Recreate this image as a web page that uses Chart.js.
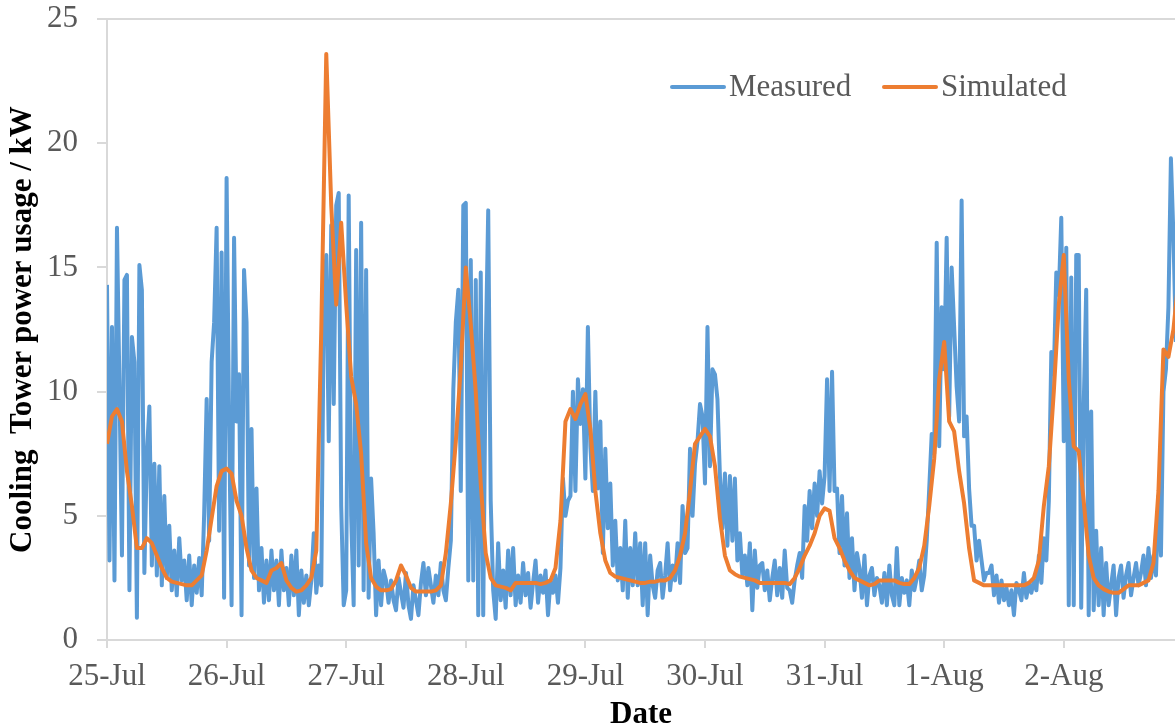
<!DOCTYPE html>
<html>
<head>
<meta charset="utf-8">
<title>Cooling Tower power usage</title>
<script src="https://cdn.jsdelivr.net/npm/chart.js@4.4.0/dist/chart.umd.min.js"></script>
<style>
    html, body { margin: 0; padding: 0; background: #ffffff; }
    #chart { display: block; }
</style>
</head>
<body>
<canvas id="chart" width="1175" height="727"></canvas>
<script>
// ----- DATA -----

// Day labels on the x axis (one tick per day, starting at 25-Jul)
const dayLabels = ['25-Jul', '26-Jul', '27-Jul', '28-Jul', '29-Jul', '30-Jul', '31-Jul', '1-Aug', '2-Aug'];

// Sampling step of each series, in days
const measuredStep = 1 / 48;   // half-hourly readings
const simulatedStep = 1 / 24;  // hourly model output

// Measured power (kW), one row per day
const measured = [
    14.3, 3.2, 12.6, 2.4, 16.6, 10.2, 3.4, 14.5, 14.7, 2.0, 12.2, 11.2, 0.9, 15.1, 14.1, 2.7, 7.5, 9.4, 3.0, 7.1, 2.6, 7.0, 2.2, 5.8,
    2.5, 4.6, 2.0, 3.6, 1.8, 4.1, 2.4, 3.2, 1.6, 3.4, 1.4, 3.0, 1.9, 3.3, 1.8, 5.1, 9.7, 4.0, 11.2, 12.8, 16.6, 4.4, 15.6, 1.7,
    18.6, 8.8, 1.4, 16.2, 8.8, 10.7, 1.0, 14.9, 12.8, 3.0, 8.5, 2.5, 6.1, 2.0, 3.7, 1.5, 3.2, 1.6, 3.6, 2.0, 3.2, 1.4, 3.6, 2.0,
    2.9, 1.4, 3.4, 1.8, 3.6, 1.0, 2.8, 1.5, 2.6, 1.4, 2.4, 4.3, 1.9, 3.0, 2.2, 13.3, 15.5, 8.0, 16.7, 9.5, 17.5, 18.0, 5.4, 1.4,
    2.0, 17.9, 5.0, 1.4, 15.7, 3.0, 16.8, 2.0, 14.9, 1.7, 6.5, 4.3, 1.0, 3.2, 1.4, 2.8, 2.4, 1.5, 2.4, 1.6, 1.2, 2.5, 1.9, 1.3,
    2.7, 1.4, 0.85, 2.2, 1.6, 1.0, 2.3, 3.1, 1.8, 2.9, 2.2, 1.5, 2.6, 1.8, 3.1, 2.0, 1.6, 2.9, 4.0, 10.1, 12.8, 14.1, 6.0, 17.5,
    17.6, 2.4, 15.3, 2.4, 14.5, 1.0, 14.8, 1.0, 11.6, 17.3, 5.6, 2.0, 0.85, 3.9, 1.6, 2.8, 1.3, 3.6, 1.8, 3.7, 1.4, 2.6, 1.5, 3.1,
    1.8, 2.7, 1.3, 2.3, 3.2, 1.5, 2.6, 1.9, 2.8, 1.0, 2.4, 1.9, 2.6, 1.5, 2.9, 6.5, 5.0, 5.6, 5.8, 10.0, 6.0, 10.5, 8.7, 10.1,
    6.5, 12.6, 7.8, 6.0, 10.0, 6.1, 8.8, 3.5, 7.7, 4.5, 6.3, 3.0, 4.8, 2.4, 3.7, 2.0, 4.8, 1.7, 3.7, 2.2, 4.3, 2.2, 3.9, 1.4,
    3.9, 1.0, 3.4, 2.2, 1.7, 2.8, 3.1, 1.7, 2.6, 3.9, 2.0, 3.0, 2.4, 3.9, 2.3, 5.4, 3.5, 3.7, 7.7, 5.0, 7.1, 8.0, 9.5, 9.0,
    6.3, 12.6, 7.0, 10.9, 10.7, 9.7, 6.6, 4.5, 6.7, 3.8, 6.6, 4.0, 6.5, 3.2, 4.3, 2.6, 3.4, 2.2, 3.9, 1.2, 3.6, 2.1, 3.0, 3.1,
    2.0, 2.8, 1.6, 2.5, 3.2, 1.8, 2.9, 1.7, 3.6, 2.1, 2.0, 1.5, 2.4, 3.0, 3.5, 2.5, 5.4, 4.0, 6.0, 4.5, 6.3, 5.0, 6.8, 5.5,
    6.6, 10.5, 6.0, 10.8, 6.0, 6.1, 3.5, 5.8, 3.0, 5.1, 2.5, 4.1, 2.0, 3.5, 2.9, 1.7, 3.4, 1.4, 2.6, 2.9, 1.8, 2.5, 2.2, 1.5,
    2.7, 1.4, 3.0, 1.8, 1.4, 3.7, 1.4, 2.5, 1.9, 2.4, 1.4, 2.8, 2.0, 2.5, 3.2, 2.0, 2.6, 4.0, 6.1, 8.3, 7.5, 16.0, 7.8, 13.4,
    10.9, 16.2, 9.0, 15.0, 12.6, 10.2, 8.8, 17.7, 8.2, 9.0, 6.1, 4.6, 4.6, 3.2, 4.0, 3.2, 2.4, 2.7, 2.7, 3.0, 1.8, 2.6, 1.5, 2.4,
    1.6, 2.1, 1.4, 2.0, 1.0, 2.3, 2.0, 1.6, 2.7, 1.7, 2.3, 1.9, 2.4, 2.0, 3.4, 2.3, 4.1, 3.2, 5.6, 11.6, 10.7, 14.8, 13.9, 17.0,
    8.0, 15.8, 1.4, 14.6, 1.4, 15.5, 15.5, 1.3, 9.4, 14.1, 1.0, 9.2, 1.2, 4.4, 1.4, 3.7, 1.0, 3.1, 1.4, 2.2, 3.0, 1.0, 2.5, 3.0,
    1.7, 2.6, 3.1, 1.8, 2.5, 3.1, 2.2, 2.7, 3.4, 2.2, 3.7, 2.5, 3.4, 2.6, 5.8, 3.4, 10.0, 10.9, 13.4, 19.4, 16.3, 12.0
];

// Simulated power (kW), one row per day
const simulated = [
    7.9, 9.0, 9.3, 8.8, 6.8, 5.4, 3.7, 3.7, 4.1, 3.9, 3.4, 2.9, 2.5, 2.35, 2.3, 2.25, 2.2, 2.2, 2.4, 2.6, 3.6, 4.9, 6.2, 6.8,
    6.9, 6.7, 5.6, 5.0, 3.7, 2.8, 2.5, 2.4, 2.3, 2.8, 2.9, 3.1, 2.4, 2.1, 1.95, 2.0, 2.2, 2.5, 3.6, 12.5, 23.6, 17.5, 13.5, 16.8,
    13.5, 10.6, 9.5, 7.5, 3.9, 2.5, 2.15, 2.0, 2.0, 2.05, 2.4, 3.0, 2.6, 2.1, 1.95, 1.95, 1.95, 1.95, 2.0, 2.2, 3.5, 5.5, 8.0, 11.0,
    15.0, 12.7, 10.0, 6.3, 3.5, 2.5, 2.2, 2.15, 2.1, 2.0, 2.3, 2.3, 2.3, 2.3, 2.3, 2.25, 2.3, 2.4, 2.9, 4.8, 8.8, 9.3, 8.9, 9.5,
    9.9, 8.5, 6.0, 4.3, 3.2, 2.7, 2.55, 2.5, 2.45, 2.4, 2.35, 2.3, 2.3, 2.35, 2.35, 2.4, 2.4, 2.5, 2.8, 3.4, 4.3, 6.0, 7.9, 8.2,
    8.5, 8.2, 7.0, 4.9, 3.4, 2.8, 2.65, 2.55, 2.5, 2.45, 2.4, 2.3, 2.3, 2.3, 2.3, 2.3, 2.3, 2.25, 2.5, 2.9, 3.4, 3.8, 4.3, 5.0,
    5.3, 5.2, 4.1, 3.7, 3.2, 2.8, 2.5, 2.4, 2.3, 2.2, 2.25, 2.4, 2.4, 2.4, 2.4, 2.3, 2.25, 2.25, 2.5, 2.9, 3.8, 5.4, 7.3, 10.5,
    12.0, 8.8, 8.4, 6.8, 5.5, 3.7, 2.4, 2.3, 2.2, 2.2, 2.2, 2.2, 2.2, 2.2, 2.2, 2.2, 2.2, 2.3, 2.5, 3.2, 5.4, 7.0, 10.0, 13.5,
    15.5, 10.5, 7.8, 7.6, 5.6, 3.4, 2.5, 2.2, 2.05, 1.95, 1.9, 1.9, 2.05, 2.2, 2.2, 2.2, 2.3, 2.4, 3.1, 6.0, 11.7, 11.4, 12.5, 14.5
];

// ----- CONFIGURACIÓN -----

const textColor = '#595959';
const lineGray = '#d9d9d9';
const serif = '"Liberation Serif", "Times New Roman", serif';

Chart.defaults.font.family = serif;
Chart.defaults.color = textColor;

// Turn a series into {x, y} points, x in days from 25-Jul
function toPoints(values, step) {
    return values.map((v, i) => ({ x: i * step, y: v }));
}

// Legend drawn inside the plot, top right, like the original figure
const innerLegend = {
    id: 'innerLegend',
    afterDatasetsDraw(chart) {
        const ctx = chart.ctx;
        const slots = [672, 884];
        const y = 87;
        ctx.save();
        ctx.font = '31px ' + serif;
        ctx.textBaseline = 'middle';
        ctx.textAlign = 'left';
        chart.data.datasets.forEach((ds, i) => {
            const x = slots[i];
            ctx.strokeStyle = ds.borderColor;
            ctx.lineWidth = 4;
            ctx.lineCap = 'round';
            ctx.beginPath();
            ctx.moveTo(x, y);
            ctx.lineTo(x + 52, y);
            ctx.stroke();
            ctx.fillStyle = textColor;
            ctx.fillText(ds.label, x + 57, y + 1);
        });
        ctx.restore();
    }
};

new Chart(document.getElementById('chart'), {
    type: 'line',
    data: {
        datasets: [
            {
                label: 'Measured',
                data: toPoints(measured, measuredStep),
                borderColor: '#5b9bd5',
                borderWidth: 4,
                borderJoinStyle: 'round',
                pointRadius: 0,
                tension: 0,
                order: 1
            },
            {
                label: 'Simulated',
                data: toPoints(simulated, simulatedStep),
                borderColor: '#ed7d31',
                borderWidth: 4,
                borderJoinStyle: 'round',
                pointRadius: 0,
                tension: 0,
                order: 0
            }
        ]
    },
    options: {
        responsive: false,
        animation: false,
        devicePixelRatio: 1,
        layout: { padding: 0 },
        plugins: {
            legend: { display: false },
            tooltip: { enabled: false }
        },
        scales: {
            x: {
                type: 'linear',
                min: 0,
                max: 8.93,
                afterFit: s => { s.height = 87; },
                afterBuildTicks: s => { s.ticks = s.ticks.filter(t => Number.isInteger(t.value)); },
                ticks: {
                    stepSize: 1,
                    padding: 10,
                    maxRotation: 0,
                    autoSkip: false,
                    font: { size: 31 },
                    color: textColor,
                    callback: v => dayLabels[v] || ''
                },
                grid: {
                    drawOnChartArea: false,
                    tickLength: 8,
                    tickColor: lineGray,
                    lineWidth: 2
                },
                border: { color: lineGray, width: 2 },
                title: {
                    display: true,
                    text: 'Date',
                    color: '#000000',
                    font: { size: 31, weight: 'bold', lineHeight: 0.8 },
                    padding: 0
                }
            },
            y: {
                min: 0,
                max: 25,
                afterFit: s => { s.width = 107; },
                ticks: {
                    stepSize: 5,
                    padding: 19,
                    // tiny line height so the top label does not push the plot down
                    font: { size: 31, lineHeight: 0.01 },
                    color: textColor
                },
                grid: {
                    color: c => (c.tick && c.tick.value === 25) ? lineGray : 'rgba(0,0,0,0)',
                    tickColor: lineGray,
                    tickLength: 10,
                    lineWidth: 2
                },
                border: { color: lineGray, width: 2 },
                title: {
                    display: true,
                    text: 'Cooling  Tower power usage / kW',
                    color: '#000000',
                    font: { size: 31, weight: 'bold', lineHeight: 1.2 },
                    padding: { top: 4, bottom: 0 }
                }
            }
        }
    },
    plugins: [innerLegend]
});
</script>
</body>
</html>
